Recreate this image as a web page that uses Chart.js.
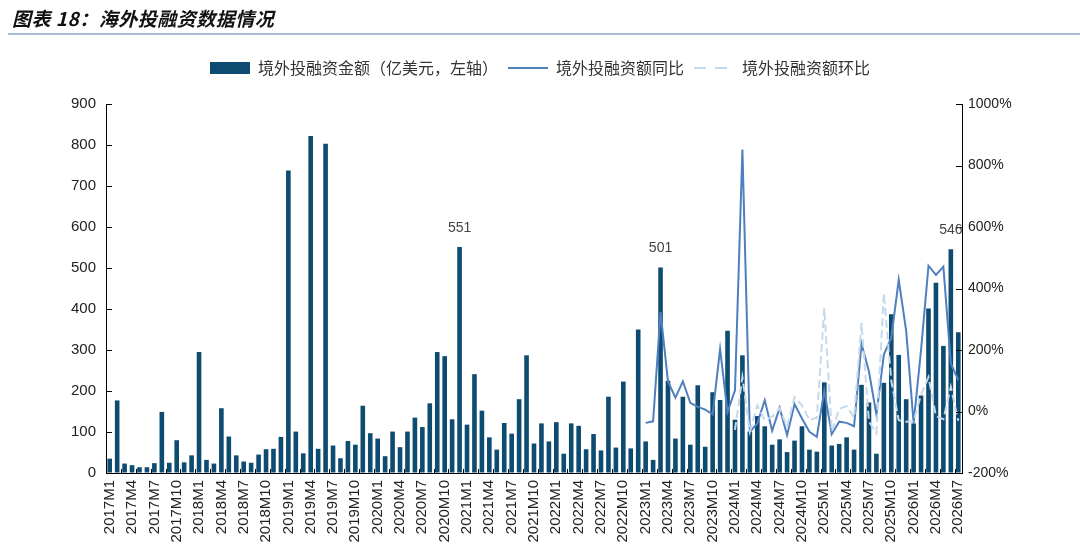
<!DOCTYPE html>
<html>
<head>
<meta charset="utf-8">
<script src="https://cdn.jsdelivr.net/npm/chart.js@4.4.1/dist/chart.umd.min.js"></script>
<style>
    html, body { margin: 0; padding: 0; background: #fff; }
    #wrap { position: relative; width: 1080px; height: 556px; }
    #title {
        position: absolute; left: 12px; top: 4px;
        font: italic bold 19px 'Noto Sans CJK SC', sans-serif;
        letter-spacing: 0.5px; color: #111;
    }
    #rule { position: absolute; left: 8px; right: 0; top: 33px; height: 2px; background: #a9bdd5; }
    #chart { position: absolute; left: 0; top: 0; }
</style>
</head>
<body>
<div id="wrap">
    <canvas id="chart" width="1080" height="556"></canvas>
    <div id="title">图表 18：海外投融资数据情况</div>
    <div id="rule"></div>
</div>
<script>
// categories: 2017M1 .. 2026M7
const years = [2017, 2018, 2019, 2020, 2021, 2022, 2023, 2024, 2025, 2026];
const lastMonth = 7;
const months = [];
years.forEach(y => {
    const n = y === 2026 ? lastMonth : 12;
    for (let m = 1; m <= n; m++) months.push(y + 'M' + m);
});

// 境外投融资金额 (亿美元)
const amount = [
    35, 177, 23, 19, 14, 14, 24, 149, 25, 80, 26, 43,
    295, 32, 23, 158, 89, 43, 28, 25, 45, 58, 59, 88,
    738, 101, 48, 822, 59, 803, 67, 36, 78, 69, 164, 97,
    84, 41, 101, 63, 101, 135, 112, 170, 295, 285, 131, 551,
    118, 241, 152, 87, 57, 122, 96, 180, 287, 72, 121, 77,
    124, 47, 121, 115, 58, 95, 55, 186, 62, 223, 60, 350,
    77, 32, 501, 225, 84, 186, 69, 214, 64, 197, 178, 347,
    130, 287, 101, 139, 114, 69, 82, 51, 79, 114, 57, 52,
    221, 67, 71, 87, 57, 215, 172, 47, 220, 387, 288, 180,
    121, 189, 401, 464, 310, 546, 343
];

// 同比 (%), from 2023M1
const yoyValues = [
    -37, -32, 323, 98, 45, 98, 28, 15, 6, -9, 203, -2,
    69, 852, -66, -39, 37, -63, 12, -77, 24, -23, -66, -82,
    69, -74, -33, -37, -48, 220, 130, -10, 185, 240, 428, 262,
    -38, 200, 474, 444, 471, 156, 102
];

// 环比 (%), from 2024M1
const momValues = [
    -60, 112, -66, 20, -28, -17, 10, -50, 47, 20, -28, -20,
    336, -65, 8, 18, -20, 288, -33, -71, 385, 100, -28, -33,
    -32, 55, 112, -15, -25, 80, -30
];

const labelledBars = ['2020M12', '2023M3', '2026M6'];

const yoy = months.map((m, i) => i < months.length - yoyValues.length ? null : yoyValues[i - (months.length - yoyValues.length)]);
const mom = months.map((m, i) => i < months.length - momValues.length ? null : momValues[i - (months.length - momValues.length)]);

Chart.defaults.font.family = "'Liberation Sans', 'Noto Sans CJK SC', sans-serif";
Chart.defaults.color = '#222';

// little canvases used as legend symbols for the two lines
function lineSymbol(color, dash) {
    const c = document.createElement('canvas');
    c.width = 40; c.height = 4;
    const g = c.getContext('2d');
    g.strokeStyle = color;
    g.lineWidth = 2;
    g.setLineDash(dash);
    g.beginPath(); g.moveTo(0, 2); g.lineTo(40, 2); g.stroke();
    return c;
}
const yoySymbol = lineSymbol('#4f7fbf', []);
const momSymbol = lineSymbol('#c6d9ec', [12, 9]);

// push the plot top down a bit below the legend
const legendGap = {
    id: 'legendGap',
    beforeLayout(chart) {
        const lg = chart.legend;
        if (lg && !lg._gap) {
            const fit = lg.fit.bind(lg);
            lg.fit = function () { fit(); this.height += 18; };
            lg._gap = true;
        }
    }
};

// inward ticks + value labels
const extras = {
    id: 'extras',
    afterDatasetsDraw(chart) {
        const {ctx, chartArea: a, scales} = chart;
        ctx.save();
        ctx.strokeStyle = '#000';
        ctx.lineWidth = 1;
        ctx.beginPath();
        scales.y.ticks.forEach(t => {
            const y = Math.round(scales.y.getPixelForValue(t.value)) + 0.5;
            ctx.moveTo(a.left, y); ctx.lineTo(a.left + 6, y);
        });
        scales.y1.ticks.forEach(t => {
            const y = Math.round(scales.y1.getPixelForValue(t.value)) + 0.5;
            ctx.moveTo(a.right, y); ctx.lineTo(a.right - 6, y);
        });
        for (let i = 2; i < months.length; i += 2) {
            const x = Math.round((scales.x.getPixelForValue(i - 1) + scales.x.getPixelForValue(i)) / 2) + 0.5;
            ctx.moveTo(x, a.bottom); ctx.lineTo(x, a.bottom - 4);
        }
        ctx.stroke();

        const bars = chart.getDatasetMeta(0).data;
        ctx.fillStyle = '#444';
        ctx.font = "14px 'Liberation Sans', sans-serif";
        ctx.textAlign = 'center';
        ctx.textBaseline = 'bottom';
        labelledBars.forEach(m => {
            const i = months.indexOf(m);
            ctx.fillText(amount[i], bars[i].x, bars[i].y - 12);
        });
        ctx.restore();
    }
};

new Chart(document.getElementById('chart'), {
    data: {
        labels: months,
        datasets: [{
            type: 'bar',
            label: '境外投融资金额（亿美元，左轴）',
            data: amount,
            backgroundColor: '#0d4b70',
            borderWidth: 0,
            barPercentage: 0.62,
            categoryPercentage: 1,
            yAxisID: 'y',
            order: 3
        }, {
            type: 'line',
            label: '境外投融资额同比',
            data: yoy,
            borderColor: '#4f7fbf',
            backgroundColor: '#4f7fbf',
            borderWidth: 2,
            pointRadius: 0,
            tension: 0,
            yAxisID: 'y1',
            order: 2
        }, {
            type: 'line',
            label: '境外投融资额环比',
            data: mom,
            borderColor: '#c6d9ec',
            backgroundColor: '#c6d9ec',
            borderWidth: 2,
            borderDash: [8, 4],
            pointRadius: 0,
            tension: 0,
            yAxisID: 'y1',
            order: 1
        }]
    },
    options: {
        responsive: false,
        animation: false,
        layout: { padding: { top: 50, left: 0, right: 0, bottom: 0 } },
        plugins: {
            tooltip: { enabled: false },
            legend: {
                position: 'top',
                labels: {
                    usePointStyle: true,
                    pointStyleWidth: 40,
                    boxWidth: 40,
                    boxHeight: 12,
                    padding: 10,
                    color: '#333',
                    font: { size: 16, family: "'Noto Sans CJK SC', sans-serif" },
                    sort: (a, b) => a.datasetIndex - b.datasetIndex,
                    generateLabels: chart => {
                        const items = Chart.defaults.plugins.legend.labels.generateLabels(chart);
                        items.forEach(it => {
                            if (it.datasetIndex === 0) { it.pointStyle = 'rect'; it.lineWidth = 0; }
                            if (it.datasetIndex === 1) it.pointStyle = yoySymbol;
                            if (it.datasetIndex === 2) it.pointStyle = momSymbol;
                        });
                        return items;
                    }
                }
            }
        },
        scales: {
            x: {
                offset: true,
                grid: { display: true, drawOnChartArea: false, drawTicks: false, offset: true },
                border: { display: true, color: '#000', width: 1 },
                ticks: {
                    autoSkip: false,
                    minRotation: 90,
                    maxRotation: 90,
                    padding: 7,
                    font: { size: 15 },
                    color: '#222',
                    callback: function (v, i) { return i % 3 === 0 ? months[i] : null; }
                },
                afterFit: s => { s.height = 83; }
            },
            y: {
                position: 'left',
                min: 0,
                max: 900,
                grid: { display: true, drawOnChartArea: false, drawTicks: false },
                border: { display: true, color: '#000', width: 1 },
                ticks: { stepSize: 100, padding: 10, font: { size: 15 }, color: '#222' },
                afterFit: s => { s.width = 106; }
            },
            y1: {
                position: 'right',
                min: -200,
                max: 1000,
                grid: { display: true, drawOnChartArea: false, drawTicks: false },
                border: { display: true, color: '#000', width: 1 },
                ticks: { stepSize: 200, padding: 6, font: { size: 14 }, color: '#222', callback: v => v + '%' },
                afterFit: s => { s.width = 118; }
            }
        }
    },
    plugins: [legendGap, extras]
});
</script>
</body>
</html>
